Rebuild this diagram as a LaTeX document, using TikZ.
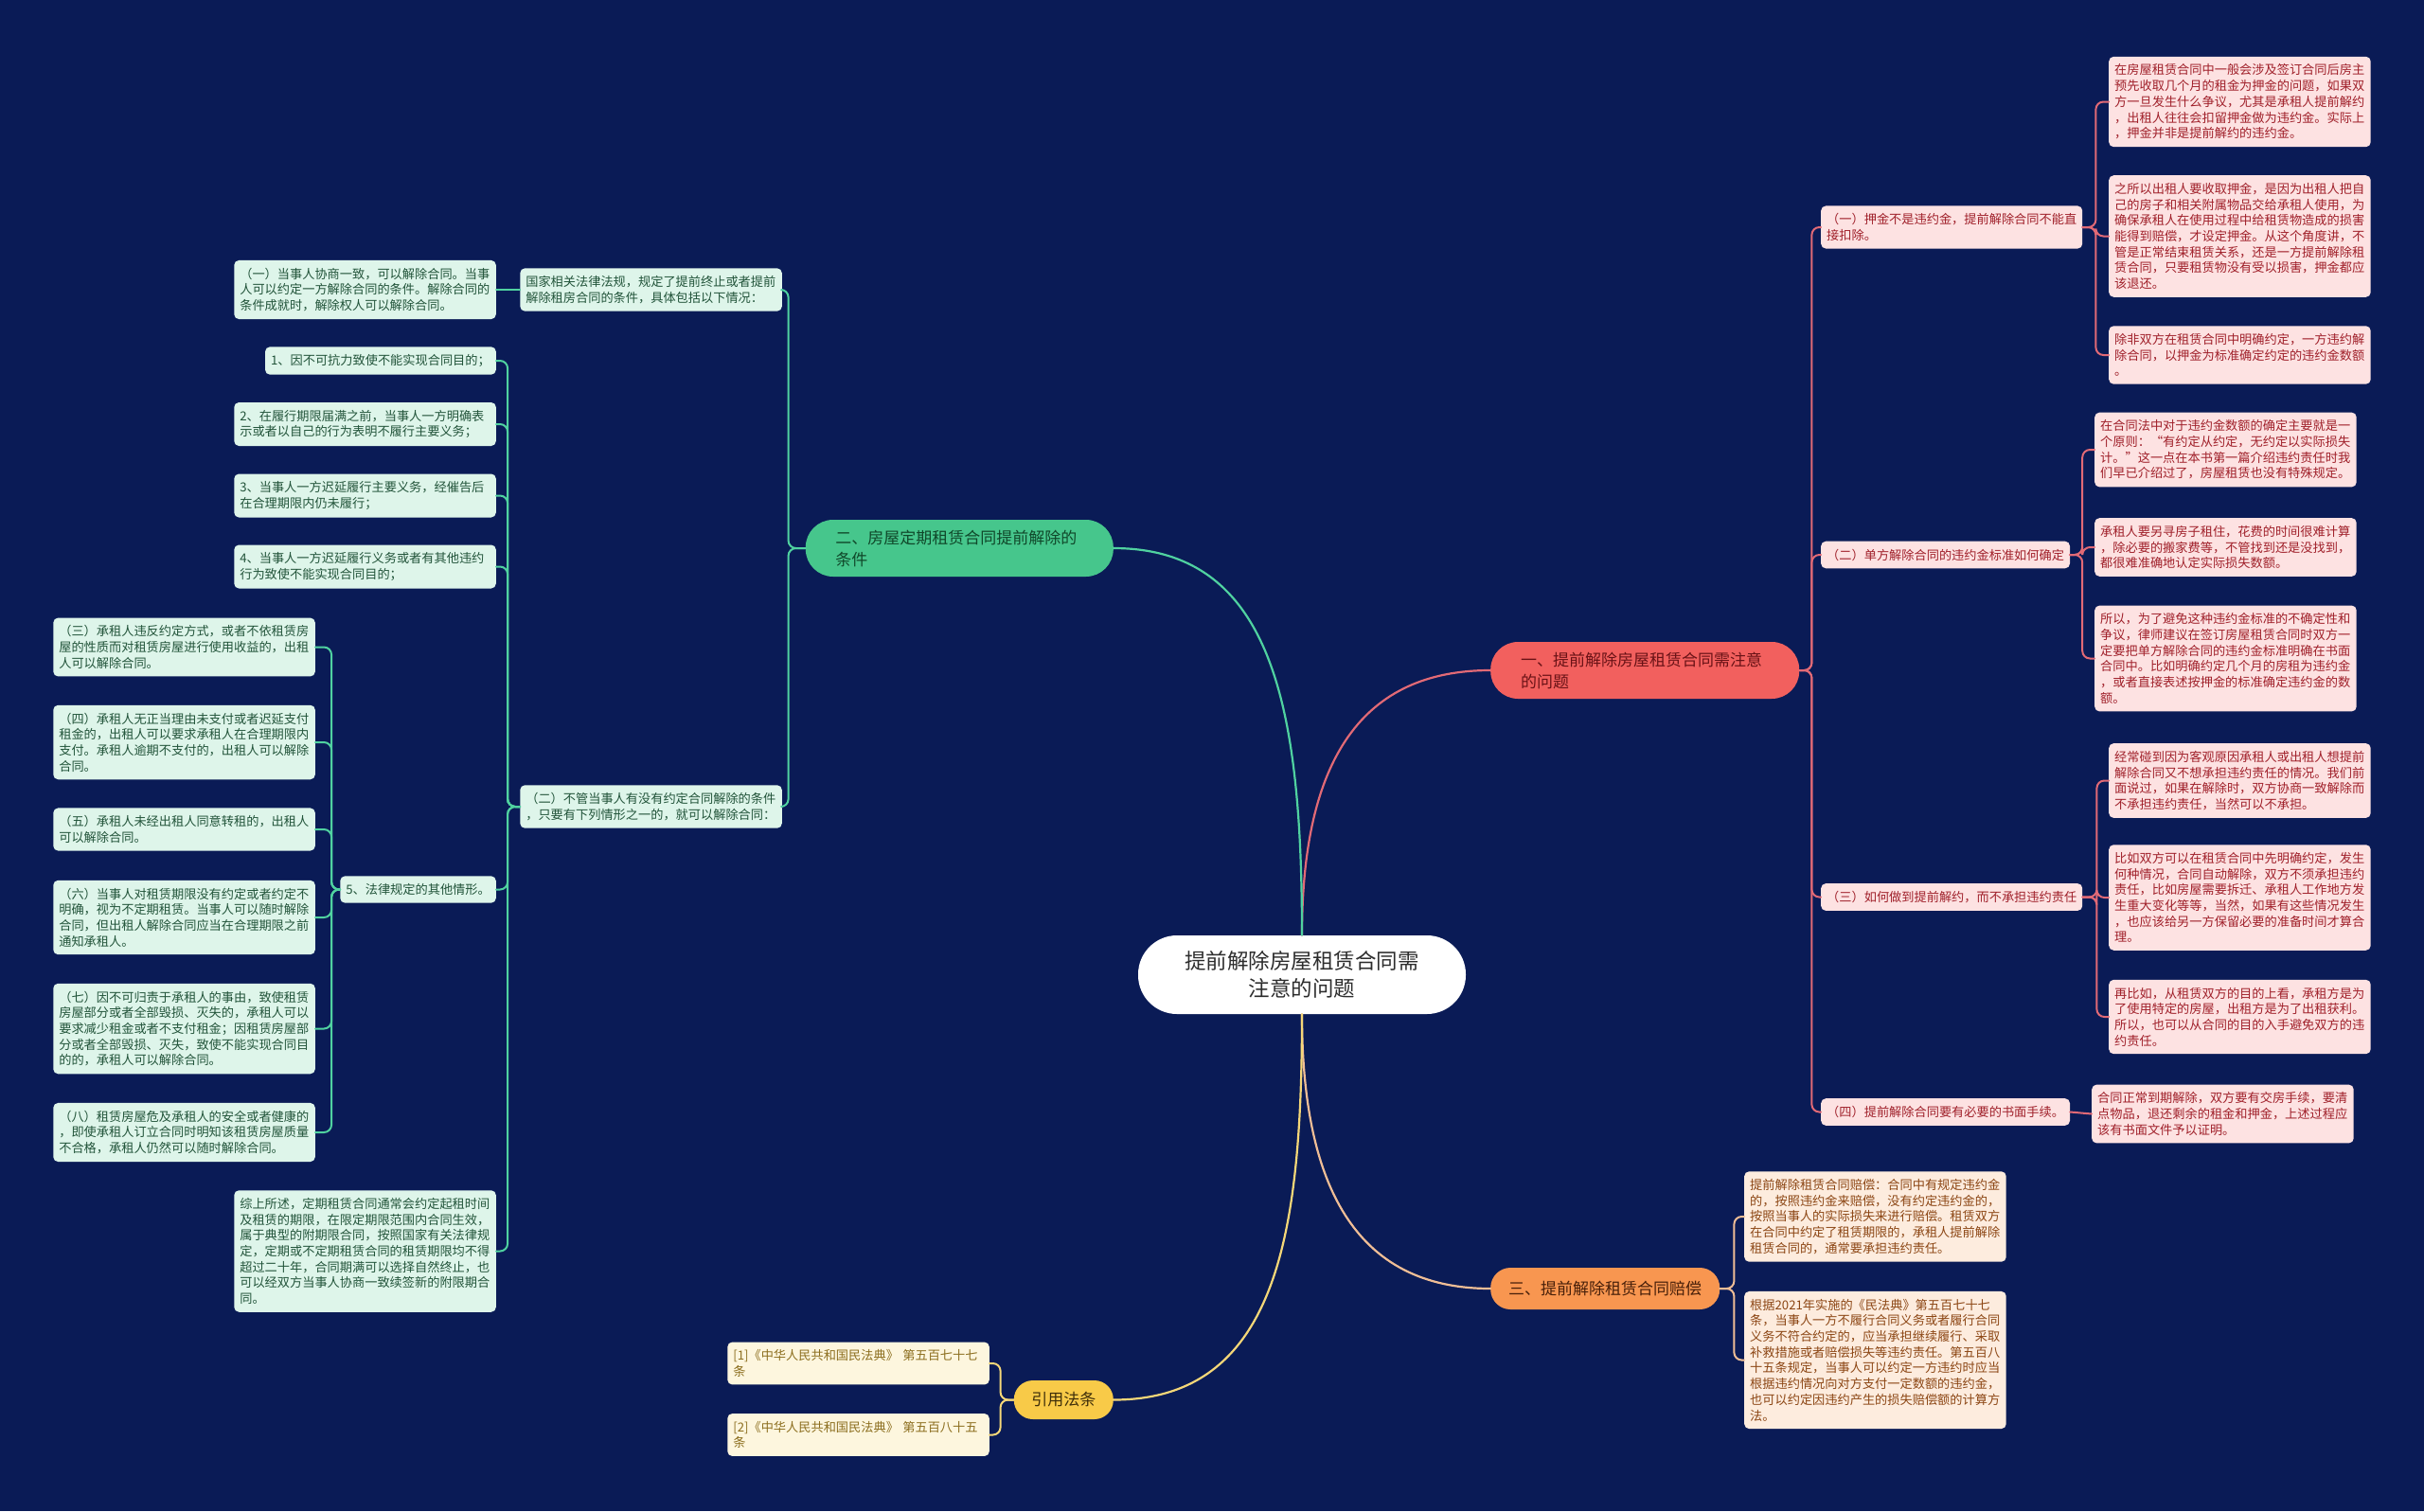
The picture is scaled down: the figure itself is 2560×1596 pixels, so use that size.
\documentclass[tikz,border=0pt]{standalone}
\usepackage{fontspec}
\setmainfont{Noto Sans CJK SC}
\usepackage{tikz}
\usepackage{xcolor}
\definecolor{bgblue}{RGB}{10,27,86}
\definecolor{rootgray}{RGB}{45,45,45}
\definecolor{redtopic}{RGB}{242,96,94}
\definecolor{redtopictxt}{RGB}{105,18,22}
\definecolor{redline}{RGB}{226,106,118}
\definecolor{redfill}{RGB}{253,226,226}
\definecolor{redtxt}{RGB}{160,32,42}
\definecolor{greentopic}{RGB}{70,198,140}
\definecolor{greentopictxt}{RGB}{16,72,42}
\definecolor{greenline}{RGB}{80,210,160}
\definecolor{greenfill}{RGB}{222,245,234}
\definecolor{greentxt}{RGB}{34,84,58}
\definecolor{orangetopic}{RGB}{248,150,80}
\definecolor{orangetopictxt}{RGB}{72,32,10}
\definecolor{orangeline}{RGB}{240,190,150}
\definecolor{orangefill}{RGB}{253,236,222}
\definecolor{orangetxt}{RGB}{140,70,20}
\definecolor{yellowtopic}{RGB}{248,202,72}
\definecolor{yellowtopictxt}{RGB}{62,46,10}
\definecolor{yellowline}{RGB}{245,215,120}
\definecolor{yellowfill}{RGB}{253,246,222}
\definecolor{yellowtxt}{RGB}{140,110,30}

\begin{document}
\begin{tikzpicture}[x=1pt,y=-1pt,line cap=round,
  box/.style={rounded corners=5pt,inner xsep=6pt,inner ysep=8pt,align=left,font=\fontsize{13.2pt}{16.7pt}\selectfont},
  leaf/.style={box,text width=264.5pt},
  topic/.style={align=left,inner ysep=0pt,font=\fontsize{17pt}{23pt}\selectfont},
  redbox/.style={box,fill=redfill,text=redtxt},
  redleaf/.style={leaf,fill=redfill,text=redtxt},
  greenbox/.style={box,fill=greenfill,text=greentxt},
  greenleaf/.style={leaf,fill=greenfill,text=greentxt},
  orangeleaf/.style={leaf,fill=orangefill,text=orangetxt},
  yellowleaf/.style={leaf,fill=yellowfill,text=yellowtxt},
  redlink/.style={draw=redline,line width=2pt,rounded corners=8pt},
  greenlink/.style={draw=greenline,line width=2pt,rounded corners=8pt},
  orangelink/.style={draw=orangeline,line width=2pt,rounded corners=8pt},
  yellowlink/.style={draw=yellowline,line width=2pt,rounded corners=8pt},
  stem/.style={line width=2.2pt}]
\useasboundingbox (0,0) rectangle (2560,1596);
\fill[bgblue] (0,0) rectangle (2560,1596);

\node[fill=white,text=rootgray,align=center,minimum width=346pt,minimum height=83pt,rounded corners=41pt,font=\fontsize{22.5pt}{29pt}\selectfont] (root) at (1375,1029.5) {提前解除房屋租赁合同需\\注意的问题};

\node[topic,anchor=west,fill=redtopic,text=redtopictxt,text width=262pt,inner xsep=32pt,minimum height=60pt,rounded corners=29pt] (t1) at (1574,708) {一、提前解除房屋租赁合同需注意\\的问题};
\node[topic,anchor=east,fill=greentopic,text=greentopictxt,text width=262pt,inner xsep=31.5pt,minimum height=60pt,rounded corners=29pt] (t2) at (1176,579) {二、房屋定期租赁合同提前解除的\\条件};
\node[topic,anchor=west,fill=orangetopic,text=orangetopictxt,inner xsep=19pt,minimum height=44pt,rounded corners=21pt] (t3) at (1574,1361) {三、提前解除租赁合同赔偿};
\node[topic,anchor=east,fill=yellowtopic,text=yellowtopictxt,inner xsep=18.5pt,minimum height=41pt,rounded corners=20pt] (t4) at (1176,1478.5) {引用法条};

\node[redbox,anchor=west] (r1) at (1923,240) {（一）押金不是违约金，提前解除合同不能直\\接扣除。};
\node[redbox,anchor=west] (r2) at (1923,586) {（二）单方解除合同的违约金标准如何确定};
\node[redbox,anchor=west] (r3) at (1923,947.5) {（三）如何做到提前解约，而不承担违约责任};
\node[redbox,anchor=west] (r4) at (1923,1174.5) {（四）提前解除合同要有必要的书面手续。};

\node[redleaf,anchor=west] (r1a) at (2227,107.5) {在房屋租赁合同中一般会涉及签订合同后房主\\预先收取几个月的租金为押金的问题，如果双\\方一旦发生什么争议，尤其是承租人提前解约\\，出租人往往会扣留押金做为违约金。实际上\\，押金并非是提前解约的违约金。};
\node[redleaf,anchor=west] (r1b) at (2227,249.5) {之所以出租人要收取押金，是因为出租人把自\\己的房子和相关附属物品交给承租人使用，为\\确保承租人在使用过程中给租赁物造成的损害\\能得到赔偿，才设定押金。从这个角度讲，不\\管是正常结束租赁关系，还是一方提前解除租\\赁合同，只要租赁物没有受以损害，押金都应\\该退还。};
\node[redleaf,anchor=west] (r1c) at (2227,375) {除非双方在租赁合同中明确约定，一方违约解\\除合同，以押金为标准确定约定的违约金数额\\。};
\node[redleaf,anchor=west] (r2a) at (2212,475) {在合同法中对于违约金数额的确定主要就是一\\个原则：“有约定从约定，无约定以实际损失\\计。”这一点在本书第一篇介绍违约责任时我\\们早已介绍过了，房屋租赁也没有特殊规定。};
\node[redleaf,anchor=west] (r2b) at (2212,578) {承租人要另寻房子租住，花费的时间很难计算\\，除必要的搬家费等，不管找到还是没找到，\\都很难准确地认定实际损失数额。};
\node[redleaf,anchor=west] (r2c) at (2212,695.5) {所以，为了避免这种违约金标准的不确定性和\\争议，律师建议在签订房屋租赁合同时双方一\\定要把单方解除合同的违约金标准明确在书面\\合同中。比如明确约定几个月的房租为违约金\\，或者直接表述按押金的标准确定违约金的数\\额。};
\node[redleaf,anchor=west] (r3a) at (2227,824.5) {经常碰到因为客观原因承租人或出租人想提前\\解除合同又不想承担违约责任的情况。我们前\\面说过，如果在解除时，双方协商一致解除而\\不承担违约责任，当然可以不承担。};
\node[redleaf,anchor=west] (r3b) at (2227,948) {比如双方可以在租赁合同中先明确约定，发生\\何种情况，合同自动解除，双方不须承担违约\\责任，比如房屋需要拆迁、承租人工作地方发\\生重大变化等等，当然，如果有这些情况发生\\，也应该给另一方保留必要的准备时间才算合\\理。};
\node[redleaf,anchor=west] (r3c) at (2227,1074) {再比如，从租赁双方的目的上看，承租方是为\\了使用特定的房屋，出租方是为了出租获利。\\所以，也可以从合同的目的入手避免双方的违\\约责任。};
\node[redleaf,anchor=west] (r4a) at (2209,1176.5) {合同正常到期解除，双方要有交房手续，要清\\点物品，退还剩余的租金和押金，上述过程应\\该有书面文件予以证明。};

\node[greenleaf,anchor=east] (g1) at (826,306) {国家相关法律法规，规定了提前终止或者提前\\解除租房合同的条件，具体包括以下情况：};
\node[greenleaf,anchor=east] (g2) at (826,852) {（二）不管当事人有没有约定合同解除的条件\\，只要有下列情形之一的，就可以解除合同：};
\node[greenleaf,anchor=east] (g1a) at (524,306) {（一）当事人协商一致，可以解除合同。当事\\人可以约定一方解除合同的条件。解除合同的\\条件成就时，解除权人可以解除合同。};
\node[greenbox,anchor=east] (n1) at (524,381) {1、因不可抗力致使不能实现合同目的；};
\node[greenleaf,anchor=east] (n2) at (524,448) {2、在履行期限届满之前，当事人一方明确表\\示或者以自己的行为表明不履行主要义务；};
\node[greenleaf,anchor=east] (n3) at (524,523.5) {3、当事人一方迟延履行主要义务，经催告后\\在合理期限内仍未履行；};
\node[greenleaf,anchor=east] (n4) at (524,598.5) {4、当事人一方迟延履行义务或者有其他违约\\行为致使不能实现合同目的；};
\node[greenbox,anchor=east] (n5) at (524,939.5) {5、法律规定的其他情形。};
\node[greenleaf,anchor=east] (n6) at (524,1321.5) {综上所述，定期租赁合同通常会约定起租时间\\及租赁的期限，在限定期限范围内合同生效，\\属于典型的附期限合同，按照国家有关法律规\\定，定期或不定期租赁合同的租赁期限均不得\\超过二十年，合同期满可以选择自然终止，也\\可以经双方当事人协商一致续签新的附限期合\\同。};
\node[greenleaf,anchor=east] (m3) at (333,683.5) {（三）承租人违反约定方式，或者不依租赁房\\屋的性质而对租赁房屋进行使用收益的，出租\\人可以解除合同。};
\node[greenleaf,anchor=east] (m4) at (333,784) {（四）承租人无正当理由未支付或者迟延支付\\租金的，出租人可以要求承租人在合理期限内\\支付。承租人逾期不支付的，出租人可以解除\\合同。};
\node[greenleaf,anchor=east] (m5) at (333,876) {（五）承租人未经出租人同意转租的，出租人\\可以解除合同。};
\node[greenleaf,anchor=east] (m6) at (333,969) {（六）当事人对租赁期限没有约定或者约定不\\明确，视为不定期租赁。当事人可以随时解除\\合同，但出租人解除合同应当在合理期限之前\\通知承租人。};
\node[greenleaf,anchor=east] (m7) at (333,1086.5) {（七）因不可归责于承租人的事由，致使租赁\\房屋部分或者全部毁损、灭失的，承租人可以\\要求减少租金或者不支付租金；因租赁房屋部\\分或者全部毁损、灭失，致使不能实现合同目\\的的，承租人可以解除合同。};
\node[greenleaf,anchor=east] (m8) at (333,1196) {（八）租赁房屋危及承租人的安全或者健康的\\，即使承租人订立合同时明知该租赁房屋质量\\不合格，承租人仍然可以随时解除合同。};

\node[orangeleaf,anchor=west] (o1) at (1842,1285) {提前解除租赁合同赔偿：合同中有规定违约金\\的，按照违约金来赔偿，没有约定违约金的，\\按照当事人的实际损失来进行赔偿。租赁双方\\在合同中约定了租赁期限的，承租人提前解除\\租赁合同的，通常要承担违约责任。};
\node[orangeleaf,anchor=west] (o2) at (1842,1436.5) {根据2021年实施的《民法典》第五百七十七\\条，当事人一方不履行合同义务或者履行合同\\义务不符合约定的，应当承担继续履行、采取\\补救措施或者赔偿损失等违约责任。第五百八\\十五条规定，当事人可以约定一方违约时应当\\根据违约情况向对方支付一定数额的违约金，\\也可以约定因违约产生的损失赔偿额的计算方\\法。};

\node[yellowleaf,anchor=east] (y1) at (1045,1440) {[1]《中华人民共和国民法典》 第五百七十七\\条};
\node[yellowleaf,anchor=east] (y2) at (1045,1515.5) {[2]《中华人民共和国民法典》 第五百八十五\\条};

\draw[redline,stem] (root.north) .. controls (1375,800) and (1440,708) .. (t1.west);
\draw[greenline,stem] (root.north) .. controls (1375,750) and (1345,579) .. (t2.east);
\draw[orangeline,stem] (root.south) .. controls (1375,1250) and (1430,1361) .. (t3.west);
\draw[yellowline,stem] (root.south) .. controls (1375,1300) and (1350,1478.5) .. (t4.east);

\draw[redlink] (t1.east) -- ++(13,0) |- (r1.west);
\draw[redlink] (t1.east) -- ++(13,0) |- (r2.west);
\draw[redlink] (t1.east) -- ++(13,0) |- (r3.west);
\draw[redlink] (t1.east) -- ++(13,0) |- (r4.west);
\draw[redlink] (r1.east) -- ++(14,0) |- (r1a.west);
\draw[redlink] (r1.east) -- ++(14,0) |- (r1b.west);
\draw[redlink] (r1.east) -- ++(14,0) |- (r1c.west);
\draw[redlink] (r2.east) -- ++(13,0) |- (r2a.west);
\draw[redlink] (r2.east) -- ++(13,0) |- (r2b.west);
\draw[redlink] (r2.east) -- ++(13,0) |- (r2c.west);
\draw[redlink] (r3.east) -- ++(15,0) |- (r3a.west);
\draw[redlink] (r3.east) -- ++(15,0) |- (r3b.west);
\draw[redlink] (r3.east) -- ++(15,0) |- (r3c.west);
\draw[redlink] (r4.east) -- (r4a.west);

\draw[greenlink] (t2.west) -- ++(-18,0) |- (g1.east);
\draw[greenlink] (t2.west) -- ++(-18,0) |- (g2.east);
\draw[greenlink] (g1.west) -- (g1a.east);
\draw[greenlink] (g2.west) -- ++(-13,0) |- (n1.east);
\draw[greenlink] (g2.west) -- ++(-13,0) |- (n2.east);
\draw[greenlink] (g2.west) -- ++(-13,0) |- (n3.east);
\draw[greenlink] (g2.west) -- ++(-13,0) |- (n4.east);
\draw[greenlink] (g2.west) -- ++(-13,0) |- (n5.east);
\draw[greenlink] (g2.west) -- ++(-13,0) |- (n6.east);
\draw[greenlink] (n5.west) -- ++(-9,0) |- (m3.east);
\draw[greenlink] (n5.west) -- ++(-9,0) |- (m4.east);
\draw[greenlink] (n5.west) -- ++(-9,0) |- (m5.east);
\draw[greenlink] (n5.west) -- ++(-9,0) |- (m6.east);
\draw[greenlink] (n5.west) -- ++(-9,0) |- (m7.east);
\draw[greenlink] (n5.west) -- ++(-9,0) |- (m8.east);

\draw[orangelink] (t3.east) -- ++(15,0) |- (o1.west);
\draw[orangelink] (t3.east) -- ++(15,0) |- (o2.west);

\draw[yellowlink] (t4.west) -- ++(-14,0) |- (y1.east);
\draw[yellowlink] (t4.west) -- ++(-14,0) |- (y2.east);
\end{tikzpicture}
\end{document}
